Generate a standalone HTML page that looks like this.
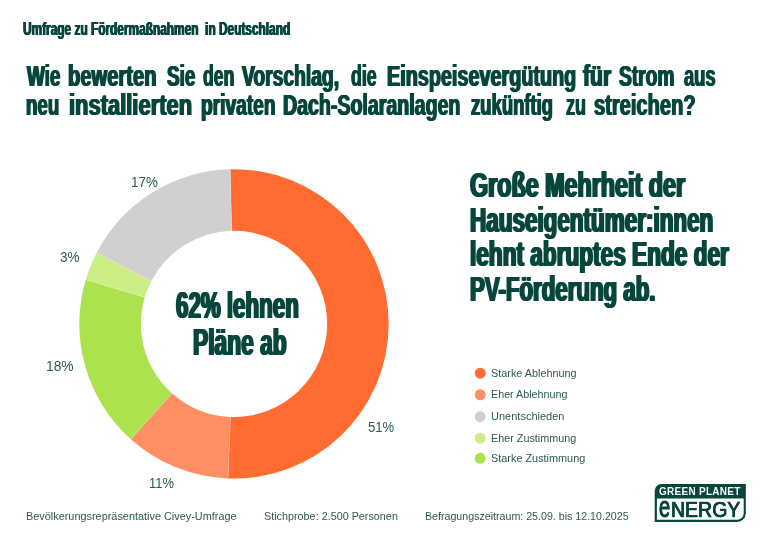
<!DOCTYPE html>
<html lang="de"><head><meta charset="utf-8"><title>Umfrage zu Fördermaßnahmen in Deutschland</title>
<style>
html,body{margin:0;padding:0;background:#fff;}
body{width:768px;height:543px;position:relative;overflow:hidden;font-family:"Liberation Sans",sans-serif;}
header,h1,h2,figure,ul,footer,p{margin:0;padding:0;font-size:inherit;font-weight:normal;list-style:none;}
.t{position:absolute;display:block;white-space:pre;transform-origin:0 0;margin:0;padding:0;}
svg{position:absolute;left:0;top:0;}
.sub{font-size:18px;line-height:23px;font-weight:bold;color:#06463c;text-shadow:0.75px 0 0 #06463c,-0.75px 0 0 #06463c;}
.h1{font-size:29.5px;line-height:38px;font-weight:bold;color:#06463c;text-shadow:1.0px 0 0 #06463c,-1.0px 0 0 #06463c;}
.hl{font-size:34.5px;line-height:45px;font-weight:bold;color:#06463c;text-shadow:1.5px 0 0 #06463c,-1.5px 0 0 #06463c;}
.ctr{font-size:37px;line-height:48px;font-weight:bold;color:#06463c;text-shadow:1.6px 0 0 #06463c,-1.6px 0 0 #06463c;}
.pct{font-size:14px;line-height:18px;font-weight:normal;color:#2c5953;}
.lg{font-size:10.1px;line-height:13px;font-weight:normal;color:#2c5953;}
.ft{font-size:10.6px;line-height:14px;font-weight:normal;color:#2c5953;}
.gp{font-size:11.2px;line-height:15px;font-weight:bold;color:#ffffff;letter-spacing:0.35px;}
.le{font-size:29.8px;line-height:39px;font-weight:normal;color:#06463c;text-shadow:0.35px 0 0 #06463c,-0.35px 0 0 #06463c;-webkit-text-stroke:0.9px #06463c;}
.ln{font-size:22.3px;line-height:29px;font-weight:normal;color:#06463c;text-shadow:0.3px 0 0 #06463c,-0.3px 0 0 #06463c;-webkit-text-stroke:0.7px #06463c;}
</style></head><body>
<svg width="768" height="543" viewBox="0 0 768 543">
<path d="M230.22 169.25A154.7 154.7 0 1 1 228.06 478.49L230.43 416.93A93.1 93.1 0 1 0 231.73 230.83Z" fill="#ff6b30"/>
<path d="M228.06 478.49A154.7 154.7 0 0 1 130.89 439.23L171.95 393.30A93.1 93.1 0 0 0 230.43 416.93Z" fill="#ff8e62"/>
<path d="M130.89 439.23A154.7 154.7 0 0 1 85.75 279.70L144.78 297.30A93.1 93.1 0 0 0 171.95 393.30Z" fill="#abe24d"/>
<path d="M85.75 279.70A154.7 154.7 0 0 1 96.65 252.71L151.34 281.06A93.1 93.1 0 0 0 144.78 297.30Z" fill="#cbee87"/>
<path d="M96.65 252.71A154.7 154.7 0 0 1 230.22 169.25L231.73 230.83A93.1 93.1 0 0 0 151.34 281.06Z" fill="#d0d0d0"/>
<path d="M230.22 169.25L231.73 230.83M228.06 478.49L230.43 416.93M130.89 439.23L171.95 393.30M85.75 279.70L144.78 297.30M96.65 252.71L151.34 281.06" stroke="#ffffff" stroke-opacity="0.3" stroke-width="0.6" fill="none"/>
<circle cx="480.2" cy="373.2" r="5.45" fill="#ff6b30"/>
<circle cx="480.2" cy="394.8" r="5.45" fill="#ff8e62"/>
<circle cx="480.2" cy="416.7" r="5.45" fill="#d0d0d0"/>
<circle cx="480.2" cy="438.2" r="5.45" fill="#cbee87"/>
<circle cx="480.2" cy="458.3" r="5.45" fill="#abe24d"/>
<path d="M661.7 484H745.8V513.2A8.7 8.7 0 0 1 737.1 521.9H654.7V491A7 7 0 0 1 661.7 484Z" fill="#06463c"/>
<path d="M656.9 498.5H743.7V513.2A6.6 6.6 0 0 1 737.1 519.8H656.9Z" fill="#ffffff"/>
</svg>
<header>
<p class="t sub" style="left:23.14px;top:17.50px;transform:scaleX(0.6597)">Umfrage zu Fördermaßnahmen  in Deutschland</p>
</header>
<h1>
<span class="t h1" style="left:26.84px;top:56.50px;transform:scaleX(0.6415)">Wie</span>
<span class="t h1" style="left:68.40px;top:56.50px;transform:scaleX(0.6835)">bewerten</span>
<span class="t h1" style="left:167.24px;top:56.50px;transform:scaleX(0.6409)">Sie</span>
<span class="t h1" style="left:202.60px;top:56.50px;transform:scaleX(0.5970)">den</span>
<span class="t h1" style="left:242.35px;top:56.50px;transform:scaleX(0.6531)">Vorschlag,</span>
<span class="t h1" style="left:351.00px;top:56.50px;transform:scaleX(0.6016)">die</span>
<span class="t h1" style="left:386.50px;top:56.50px;transform:scaleX(0.6714)">Einspeisevergütung</span>
<span class="t h1" style="left:582.72px;top:56.50px;transform:scaleX(0.7170)">für</span>
<span class="t h1" style="left:619.25px;top:56.50px;transform:scaleX(0.6512)">Strom</span>
<span class="t h1" style="left:684.32px;top:56.50px;transform:scaleX(0.6218)">aus</span>
<span class="t h1" style="left:26.20px;top:85.50px;transform:scaleX(0.6333)">neu</span>
<span class="t h1" style="left:68.96px;top:85.50px;transform:scaleX(0.7432)">installierten</span>
<span class="t h1" style="left:201.00px;top:85.50px;transform:scaleX(0.6493)">privaten</span>
<span class="t h1" style="left:283.30px;top:85.50px;transform:scaleX(0.6639)">Dach-Solaranlagen</span>
<span class="t h1" style="left:471.00px;top:85.50px;transform:scaleX(0.6257)">zukünftig</span>
<span class="t h1" style="left:566.00px;top:85.50px;transform:scaleX(0.6107)">zu</span>
<span class="t h1" style="left:593.90px;top:85.50px;transform:scaleX(0.6811)">streichen?</span>
</h1>
<h2>
<span class="t hl" style="left:470.44px;top:162.50px;transform:scaleX(0.6758)">Große Mehrheit der</span>
<span class="t hl" style="left:469.77px;top:197.50px;transform:scaleX(0.6509)">Hauseigentümer:innen</span>
<span class="t hl" style="left:469.77px;top:231.50px;transform:scaleX(0.6554)">lehnt abruptes Ende der</span>
<span class="t hl" style="left:469.78px;top:266.50px;transform:scaleX(0.6451)">PV-Förderung ab.</span>
</h2>
<figure>
<span class="t ctr" style="left:176.36px;top:281.50px;transform:scaleX(0.6034)">62% lehnen</span>
<span class="t ctr" style="left:192.75px;top:318.50px;transform:scaleX(0.6159)">Pläne ab</span>
<span class="t pct" style="left:130.54px;top:173.00px;transform:scaleX(0.9559)">17%</span>
<span class="t pct" style="left:59.90px;top:248.00px;transform:scaleX(0.9603)">3%</span>
<span class="t pct" style="left:46.41px;top:357.00px;transform:scaleX(0.9860)">18%</span>
<span class="t pct" style="left:148.88px;top:474.00px;transform:scaleX(0.9243)">11%</span>
<span class="t pct" style="left:368.40px;top:418.00px;transform:scaleX(0.9321)">51%</span>
</figure>
<ul>
<li class="t lg" style="left:490.90px;top:367.00px;transform:scaleX(1.0737)">Starke Ablehnung</li>
<li class="t lg" style="left:490.90px;top:388.00px;transform:scaleX(1.0643)">Eher Ablehnung</li>
<li class="t lg" style="left:490.90px;top:410.00px;transform:scaleX(1.0910)">Unentschieden</li>
<li class="t lg" style="left:490.90px;top:432.00px;transform:scaleX(1.0690)">Eher Zustimmung</li>
<li class="t lg" style="left:490.90px;top:452.00px;transform:scaleX(1.0772)">Starke Zustimmung</li>
</ul>
<footer>
<span class="t ft" style="left:25.60px;top:509.00px;transform:scaleX(1.0278)">Bevölkerungsrepräsentative Civey-Umfrage</span>
<span class="t ft" style="left:263.50px;top:509.00px;transform:scaleX(1.0194)">Stichprobe: 2.500 Personen</span>
<span class="t ft" style="left:425.10px;top:509.00px;transform:scaleX(1.0049)">Befragungszeitraum: 25.09. bis 12.10.2025</span>
<span class="t gp" style="left:659.10px;top:483.50px;transform:scaleX(0.8893)">GREEN PLANET</span>
<span class="t le" style="left:658.97px;top:487.00px;transform:scaleX(0.6747)">e</span>
<span class="t ln" style="left:671.49px;top:495.00px;transform:scaleX(0.8743)">NERGY</span>
</footer>
</body></html>
